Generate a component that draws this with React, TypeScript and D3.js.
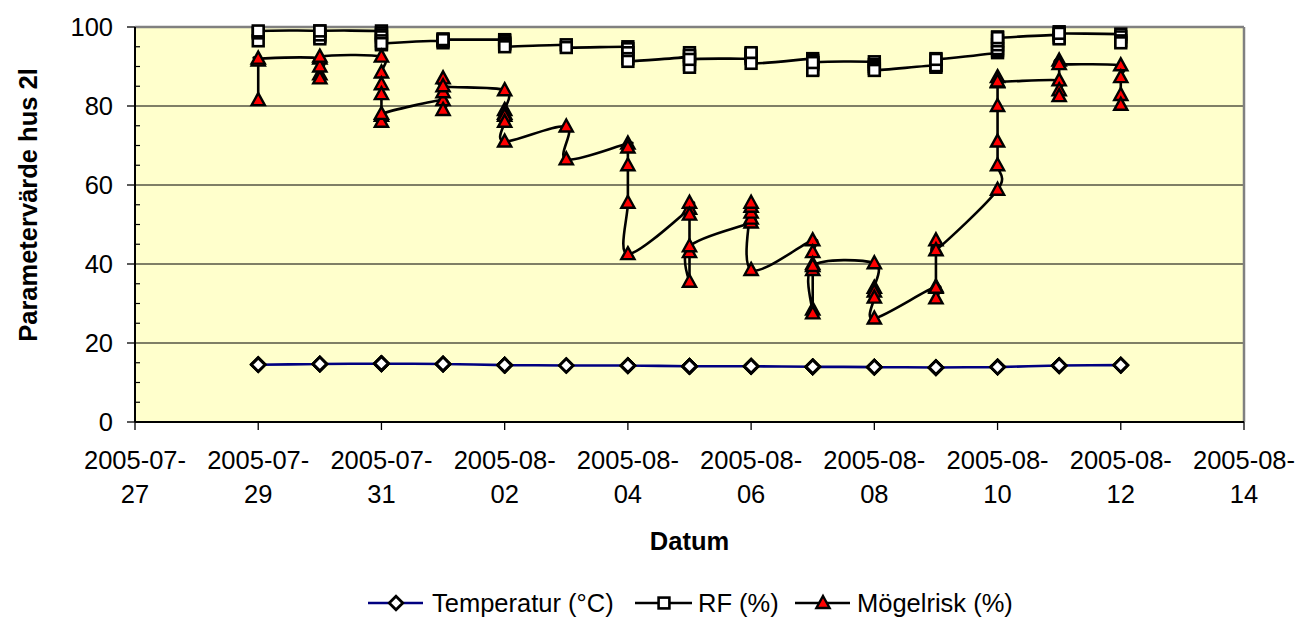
import React from "react";
import * as d3 from "d3";

// ---- DATA ----
const days = [
  "2005-07-29", "2005-07-30", "2005-07-31", "2005-08-01", "2005-08-02",
  "2005-08-03", "2005-08-04", "2005-08-05", "2005-08-06", "2005-08-07",
  "2005-08-08", "2005-08-09", "2005-08-10", "2005-08-11", "2005-08-12",
];

const temperatur = [
  [14.5, 14.6, 14.5],
  [14.7, 14.7, 14.6, 14.7, 14.7],
  [14.8, 14.8, 14.7, 14.8, 14.8, 14.7, 14.8],
  [14.7, 14.7, 14.6, 14.7, 14.7],
  [14.4, 14.4, 14.3, 14.4, 14.4, 14.4],
  [14.3, 14.3],
  [14.3, 14.3, 14.2, 14.3, 14.3],
  [14.1, 14.1, 14.0, 14.1, 14.1, 14.1],
  [14.1, 14.1, 14.0, 14.1, 14.1, 14.1],
  [14.0, 14.0, 13.9, 14.0, 14.0, 13.9, 14.0],
  [13.9, 13.9, 13.8, 13.9, 13.9],
  [13.8, 13.8, 13.7, 13.8, 13.8],
  [13.9, 13.9, 13.9, 14.0, 13.9, 13.9, 13.9],
  [14.3, 14.3, 14.2, 14.3, 14.3],
  [14.4, 14.4, 14.3, 14.4],
];

const rf = [
  [96.5, 98.5, 99],
  [99, 97.5, 97, 98, 99],
  [99, 98.5, 98, 97.5, 96.5, 95.5, 95.8],
  [96.5, 96, 96.5, 97, 96.8],
  [96.8, 96.5, 96, 95.8, 95.5, 95],
  [95.5, 94.8],
  [95, 94.5, 93.5, 92, 91.3],
  [92.5, 93.5, 92.8, 90.5, 89.8, 91.8],
  [92, 92.5, 93, 93.3, 93.5, 90.8],
  [92, 91.5, 91, 90.5, 89.3, 89, 91],
  [91.2, 90.5, 90, 89.5, 89],
  [90.3, 89.8, 90.2, 92, 91.8],
  [93.5, 94, 94.5, 95.5, 96.5, 97.5, 97.3],
  [98, 97.3, 97, 98.8, 98.4],
  [98.2, 97.5, 96.5, 96],
];

const mogelrisk = [
  [81.5, 91.5, 92],
  [92, 88, 87, 90, 92.5],
  [92.5, 88.5, 85.5, 83, 77.5, 76, 78],
  [81.5, 79, 83.5, 87, 85],
  [84, 79, 78, 77.5, 76, 71],
  [74.8, 66.5],
  [70.5, 69.5, 65, 55.5, 42.5],
  [54, 55.5, 52.5, 43, 35.5, 44.5],
  [50.5, 51.5, 53, 54.5, 55.5, 38.5],
  [46, 43, 40, 38.5, 28.5, 27.5, 39.5],
  [40.2, 34, 33, 31.5, 26.2],
  [34.3, 31.3, 34, 46, 43.5],
  [58.8, 65, 71, 80, 86, 87.3, 86.2],
  [86.5, 84, 82.5, 91.5, 90.6],
  [90.3, 87.3, 82.8, 80.3],
];

const xDomain = ["2005-07-27", "2005-08-14"];
const yDomain = [0, 100];
const seriesNames = ["Temperatur (°C)", "RF (%)", "Mögelrisk (%)"];
const yTitle = "Parametervärde hus 2l";
const xTitle = "Datum";

// ---- LAYOUT ----
const W = 1298;
const H = 619;
const L = 135, R = 1244, T = 27, B = 422;
const FONT = "Arial, 'Liberation Sans', sans-serif";
const FS = 25.5;
const LW = 2.6;

type Pt = { d: Date; v: number };

function flatten(vals: number[][]): Pt[] {
  const out: Pt[] = [];
  vals.forEach((arr, i) => {
    const d = new Date(days[i] + "T00:00:00Z");
    arr.forEach((v) => out.push({ d, v }));
  });
  return out;
}

function Diamond({ cx, cy }: { cx: number; cy: number }) {
  const s = 6.8;
  return (
    <path
      d={`M${cx},${cy - s}L${cx + s},${cy}L${cx},${cy + s}L${cx - s},${cy}Z`}
      fill="#fff"
      stroke="#000"
      strokeWidth={2.8}
    />
  );
}
function Square({ cx, cy }: { cx: number; cy: number }) {
  const s = 5.4;
  return (
    <rect x={cx - s} y={cy - s} width={2 * s} height={2 * s} fill="#fff" stroke="#000" strokeWidth={2.6} />
  );
}
function Triangle({ cx, cy }: { cx: number; cy: number }) {
  return (
    <path
      d={`M${cx},${cy - 7}L${cx + 6.6},${cy + 5}L${cx - 6.6},${cy + 5}Z`}
      fill="#ff0000"
      stroke="#000"
      strokeWidth={2.4}
      strokeLinejoin="miter"
    />
  );
}

export default function App() {
  const x = d3
    .scaleUtc()
    .domain(xDomain.map((s) => new Date(s + "T00:00:00Z")))
    .range([L, R]);
  const y = d3.scaleLinear().domain(yDomain).range([B, T]);

  const line = d3
    .line<Pt>()
    .x((p) => x(p.d))
    .y((p) => y(p.v))
    .curve(d3.curveCardinal.tension(0));

  const tData = flatten(temperatur);
  const rData = flatten(rf);
  const mData = flatten(mogelrisk);

  const [d0, d1] = x.domain();
  const xTicks = d3.utcDay.range(d0, d3.utcDay.offset(d1, 1), 2);
  const yTicks = y.ticks(5);
  const yMinor = d3.range(0, 101, 5).filter((v) => v % 20 !== 0);
  const fmtTop = d3.utcFormat("%Y-%m-");
  const fmtBot = d3.utcFormat("%d");

  const legendY = 603;

  return (
    <svg
      width={W}
      height={H}
      style={{ position: "absolute", left: 0, top: 0, background: "#fff" }}
      fontFamily={FONT}
    >
      <defs>
        <clipPath id="plotclip">
          <rect x={L - 10} y={T - 10} width={R - L + 20} height={B - T + 20} />
        </clipPath>
      </defs>
      {/* plot area */}
      <rect x={L} y={T} width={R - L} height={B - T} fill="#FFFFCC" />
      {/* gridlines */}
      {yTicks
        .filter((v) => v > 0 && v < 100)
        .map((v) => (
          <line key={"g" + v} x1={L} x2={R} y1={y(v)} y2={y(v)} stroke="#000" strokeWidth={1.2} />
        ))}
      {/* border (top/right gray) */}
      <line x1={L} x2={R} y1={T} y2={T} stroke="#808080" strokeWidth={2.5} />
      <line x1={R} x2={R} y1={T} y2={B} stroke="#808080" strokeWidth={2.5} />

      {/* y axis */}
      <line x1={L} x2={L} y1={T} y2={B} stroke="#000" strokeWidth={2} />
      {yTicks.map((v) => (
        <g key={"yt" + v}>
          <line x1={L - 8} x2={L} y1={y(v)} y2={y(v)} stroke="#000" strokeWidth={1.3} />
          <text x={113} y={y(v)} dy="0.35em" textAnchor="end" fontSize={FS} fill="#000">
            {v}
          </text>
        </g>
      ))}
      {yMinor.map((v) => (
        <line key={"ym" + v} x1={L} x2={L + 5} y1={y(v)} y2={y(v)} stroke="#000" strokeWidth={1.2} />
      ))}
      {/* x axis */}
      <line x1={L} x2={R} y1={B} y2={B} stroke="#000" strokeWidth={2} />
      {xTicks.map((d) => (
        <g key={"xt" + d.getTime()}>
          <line x1={x(d)} x2={x(d)} y1={B} y2={B + 8} stroke="#000" strokeWidth={1.3} />
          <text x={x(d)} y={460} dy="0.35em" textAnchor="middle" fontSize={FS} fill="#000">
            {fmtTop(d)}
          </text>
          <text x={x(d)} y={494} dy="0.35em" textAnchor="middle" fontSize={FS} fill="#000">
            {fmtBot(d)}
          </text>
        </g>
      ))}

      {/* titles */}
      <text
        x={(L + R) / 2}
        y={541}
        dy="0.35em"
        textAnchor="middle"
        fontSize={FS}
        fontWeight="bold"
        fill="#000"
      >
        {xTitle}
      </text>
      <text
        transform={`translate(28,205) rotate(-90)`}
        dy="0.35em"
        textAnchor="middle"
        fontSize={FS}
        fontWeight="bold"
        fill="#000"
      >
        {yTitle}
      </text>

      {/* series */}
      <g clipPath="url(#plotclip)">
        <path d={line(tData) || ""} fill="none" stroke="#000080" strokeWidth={LW} />
        {tData.map((p, i) => (
          <Diamond key={"t" + i} cx={x(p.d)} cy={y(p.v)} />
        ))}
        <path d={line(rData) || ""} fill="none" stroke="#000" strokeWidth={LW} />
        {rData.map((p, i) => (
          <Square key={"r" + i} cx={x(p.d)} cy={y(p.v)} />
        ))}
        <path d={line(mData) || ""} fill="none" stroke="#000" strokeWidth={LW} />
        {mData.map((p, i) => (
          <Triangle key={"m" + i} cx={x(p.d)} cy={y(p.v)} />
        ))}
      </g>

      {/* legend */}
      <g>
        <line x1={368} x2={423} y1={legendY} y2={legendY} stroke="#000080" strokeWidth={LW} />
        <Diamond cx={396} cy={legendY} />
        <text x={432} y={legendY} dy="0.35em" fontSize={FS} fill="#000">
          {seriesNames[0]}
        </text>
        <line x1={635} x2={692} y1={legendY} y2={legendY} stroke="#000" strokeWidth={LW} />
        <Square cx={664} cy={legendY} />
        <text x={698} y={legendY} dy="0.35em" fontSize={FS} fill="#000">
          {seriesNames[1]}
        </text>
        <line x1={795} x2={850} y1={legendY} y2={legendY} stroke="#000" strokeWidth={LW} />
        <Triangle cx={823} cy={legendY} />
        <text x={857} y={legendY} dy="0.35em" fontSize={FS} fill="#000">
          {seriesNames[2]}
        </text>
      </g>
    </svg>
  );
}
